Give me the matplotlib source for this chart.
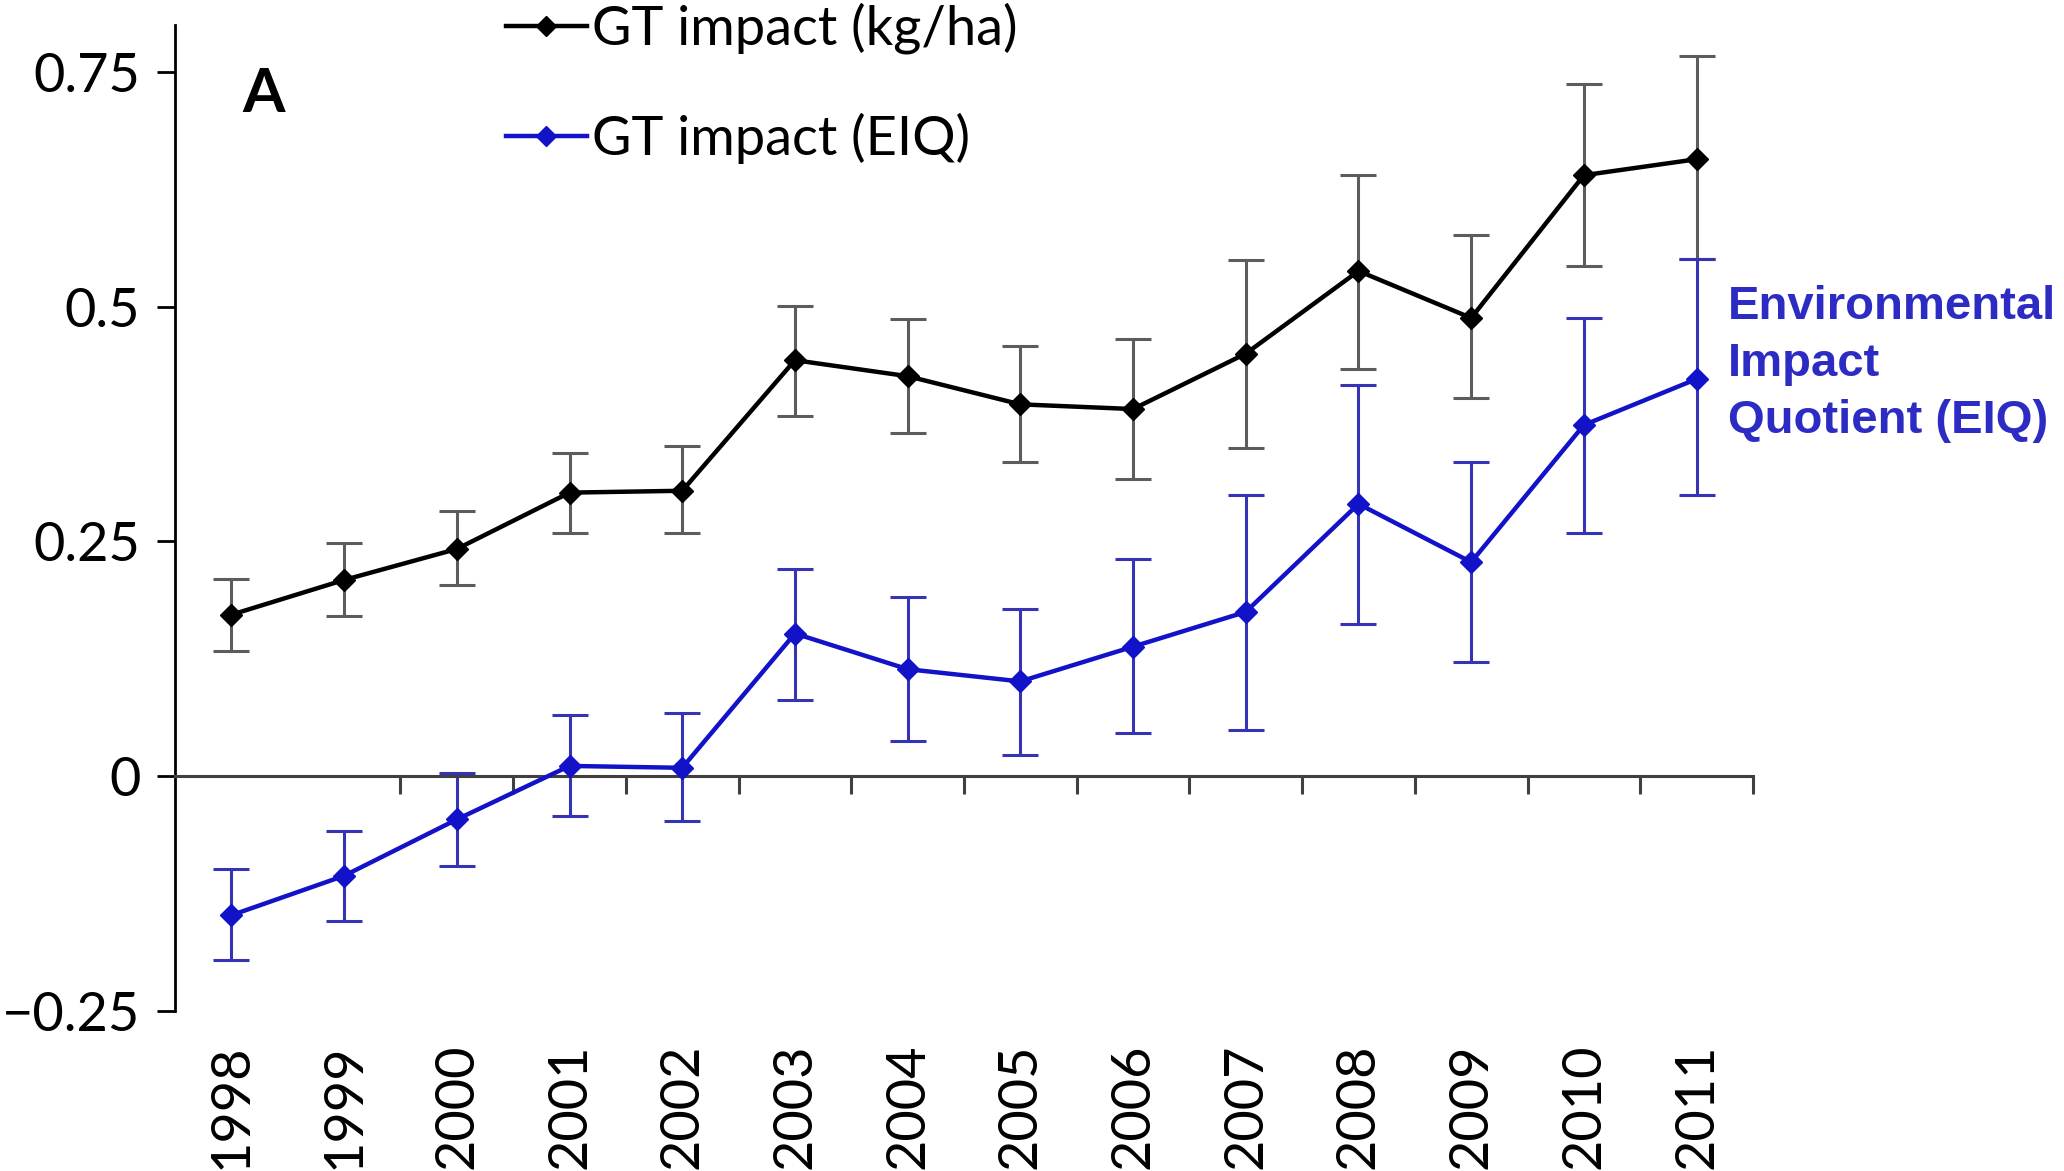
import numpy as np
import matplotlib
matplotlib.use('Agg')
import matplotlib.pyplot as plt
from matplotlib.lines import Line2D

plt.rcParams['font.family'] = ['Lato', 'DejaVu Sans']

years = ['1998', '1999', '2000', '2001', '2002', '2003', '2004',
         '2005', '2006', '2007', '2008', '2009', '2010', '2011']

# GT impact (kg/ha)
kg = [0.172, 0.209, 0.242, 0.302, 0.304, 0.443, 0.426,
      0.396, 0.391, 0.450, 0.538, 0.488, 0.640, 0.657]
kg_hi = [0.210, 0.248, 0.282, 0.344, 0.352, 0.501, 0.487,
         0.458, 0.466, 0.550, 0.640, 0.576, 0.737, 0.767]
kg_lo = [0.133, 0.171, 0.204, 0.259, 0.259, 0.384, 0.366,
         0.335, 0.316, 0.350, 0.434, 0.403, 0.543, 0.551]

# GT impact (EIQ)
eiq = [-0.148, -0.106, -0.046, 0.011, 0.009, 0.152, 0.114,
       0.101, 0.138, 0.175, 0.290, 0.228, 0.374, 0.423]
eiq_hi = [-0.099, -0.058, 0.003, 0.065, 0.067, 0.221, 0.191,
          0.178, 0.231, 0.299, 0.417, 0.335, 0.488, 0.551]
eiq_lo = [-0.196, -0.154, -0.096, -0.042, -0.048, 0.081, 0.038,
          0.023, 0.046, 0.049, 0.162, 0.122, 0.259, 0.299]

blue = '#1212c8'
x = np.arange(len(years))

fig = plt.figure(figsize=(20.64, 11.71), dpi=100)
ax = fig.add_axes([0.0848, 0.1366, 0.7645, 0.8421])

kg_err = [np.array(kg) - np.array(kg_lo), np.array(kg_hi) - np.array(kg)]
eiq_err = [np.array(eiq) - np.array(eiq_lo), np.array(eiq_hi) - np.array(eiq)]

ax.errorbar(x, kg, yerr=kg_err, fmt='none', ecolor='#5c5c5c', elinewidth=2.2,
            capsize=13, capthick=2.2, zorder=2)
ax.plot(x, kg, color='black', lw=3.2, marker='D', ms=11, zorder=3)

ax.errorbar(x, eiq, yerr=eiq_err, fmt='none', ecolor='#3434b4', elinewidth=2.2,
            capsize=13, capthick=2.2, zorder=2.5)
ax.plot(x, eiq, color=blue, lw=3.2, marker='D', ms=11, zorder=3)

ax.set_xlim(-0.5, len(years) - 0.5)
ax.set_ylim(-0.25, 0.8)

ax.spines['top'].set_visible(False)
ax.spines['right'].set_visible(False)
ax.spines['bottom'].set_position(('data', 0))
ax.spines['bottom'].set_color('#404040')
ax.spines['bottom'].set_linewidth(2.2)
ax.spines['left'].set_linewidth(2)
ax.spines['left'].set_bounds(-0.25, 0.8)

ax.set_yticks([-0.25, 0, 0.25, 0.5, 0.75])
ax.set_yticklabels(['\u22120.25', '0', '0.25', '0.5', '0.75'])
ax.tick_params(axis='y', labelsize=39, length=13, width=2, pad=12)

ax.set_xticks(x[1:] + 0.5)
ax.set_xticklabels([])
ax.tick_params(axis='x', direction='out', length=13, width=2.2, color='#404040')

# year labels below the plot
for xi, yr in zip(x, years):
    ax.text(xi, -0.285, yr, rotation=90, ha='center', va='top', fontsize=39,
            transform=ax.transData)

ax.text(0.056, 0.93, 'A', transform=ax.transAxes, fontsize=44,
        fontweight='bold', ha='center', va='center')

handles = [
    Line2D([0], [0], color='black', lw=3.2, marker='D', ms=10),
    Line2D([0], [0], color=blue, lw=3.2, marker='D', ms=10),
]
fig.legend(handles, ['GT impact (kg/ha)', 'GT impact (EIQ)'],
           loc='upper left', bbox_to_anchor=(0.245, 0.998), frameon=False,
           fontsize=39, handlelength=1.5, handletextpad=0.1,
           labelspacing=1.08, borderpad=0, borderaxespad=0)

fig.text(0.837, 0.689, 'Environmental\nImpact\nQuotient (EIQ)',
         color='#2c2cc4', fontsize=34, fontweight='bold',
         family=['Liberation Sans', 'DejaVu Sans'],
         ha='left', va='center', linespacing=1.38)

fig.savefig('out.png', dpi=100)
